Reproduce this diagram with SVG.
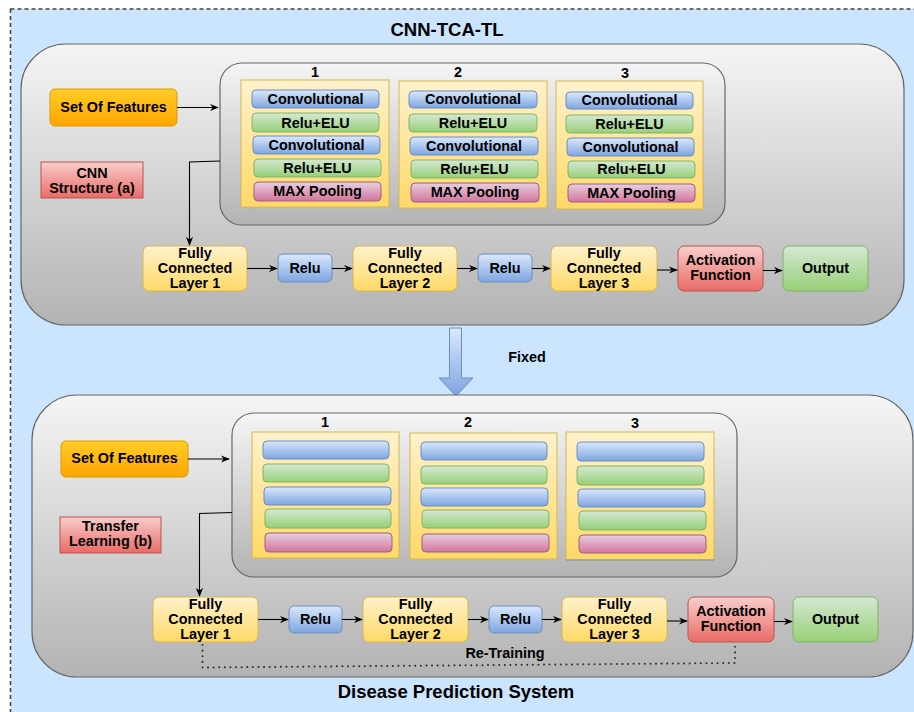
<svg xmlns="http://www.w3.org/2000/svg" width="914" height="712" viewBox="0 0 914 712">
  <defs>
    <linearGradient id="gGray" x1="0" y1="0" x2="0" y2="1">
      <stop offset="0" stop-color="#f5f5f5"/>
      <stop offset="1" stop-color="#b3b3b3"/>
    </linearGradient>
    <linearGradient id="gYellow" x1="0" y1="0" x2="0" y2="1">
      <stop offset="0" stop-color="#fff2cc"/>
      <stop offset="1" stop-color="#ffd966"/>
    </linearGradient>
    <linearGradient id="gBlue" x1="0" y1="0" x2="0" y2="1">
      <stop offset="0" stop-color="#dae8fc"/>
      <stop offset="1" stop-color="#7ea6e0"/>
    </linearGradient>
    <linearGradient id="gGreen" x1="0" y1="0" x2="0" y2="1">
      <stop offset="0" stop-color="#d5e8d4"/>
      <stop offset="1" stop-color="#97d077"/>
    </linearGradient>
    <linearGradient id="gPink" x1="0" y1="0" x2="0" y2="1">
      <stop offset="0" stop-color="#e6d0de"/>
      <stop offset="1" stop-color="#d5739d"/>
    </linearGradient>
    <linearGradient id="gOrange" x1="0" y1="0" x2="0" y2="1">
      <stop offset="0" stop-color="#ffcd28"/>
      <stop offset="1" stop-color="#ffa500"/>
    </linearGradient>
    <linearGradient id="gRed" x1="0" y1="0" x2="0" y2="1">
      <stop offset="0" stop-color="#f8cecc"/>
      <stop offset="1" stop-color="#ea6b66"/>
    </linearGradient>
    <marker id="arr" viewBox="0 0 10 10" refX="9" refY="5" markerWidth="9" markerHeight="9" markerUnits="userSpaceOnUse" orient="auto">
      <path d="M0,1 L10,5 L0,9 L3,5 z" fill="#000"/>
    </marker>
  </defs>
  <style>
    text { font-family: "Liberation Sans", Arial, sans-serif; font-weight: bold; font-size: 14.4px; fill: #000; text-anchor: middle; }
    .title { font-size: 18.5px; }
    .panel { fill: url(#gGray); stroke: #666666; stroke-width: 1.2; }
    .col { fill: url(#gYellow); stroke: #d6b656; stroke-width: 1; }
    .fc { fill: url(#gYellow); stroke: #d6b656; stroke-width: 1; }
    .blue { fill: url(#gBlue); stroke: #6c8ebf; stroke-width: 1; }
    .green { fill: url(#gGreen); stroke: #82b366; stroke-width: 1; }
    .pink { fill: url(#gPink); stroke: #996185; stroke-width: 1; }
    .orange { fill: url(#gOrange); stroke: #d79b00; stroke-width: 1; }
    .red { fill: url(#gRed); stroke: #b85450; stroke-width: 1; }
    .link { fill: none; stroke: #000; stroke-width: 1.1; marker-end: url(#arr); }
    .dotted { fill: none; stroke: #333; stroke-width: 2; stroke-dasharray: 0.1 5.5; stroke-linecap: round; }
  </style>

  <!-- background container -->
  <rect x="10.5" y="9" width="920" height="720" fill="#cce5ff" stroke="#444" stroke-width="1.6" stroke-dasharray="4 3"/>
  <text class="title" x="447" y="36">CNN-TCA-TL</text>
  <text class="title" x="456" y="698">Disease Prediction System</text>

  <!-- ===== Part (a): CNN structure ===== -->
  <g id="panel-a">
    <rect class="panel" x="21" y="44" width="883" height="281" rx="45" ry="45"/>
    <rect class="panel" x="220" y="63" width="505" height="162" rx="22" ry="22"/>
  </g>

  <g id="a-block1">
    <text x="315" y="77">1</text>
    <rect class="col" x="241" y="80" width="148" height="127"/>
    <rect class="blue" x="252" y="90" width="127" height="18" rx="4"/>
    <text x="315.5" y="104">Convolutional</text>
    <rect class="green" x="252" y="113" width="127" height="19" rx="4"/>
    <text x="315.5" y="128">Relu+ELU</text>
    <rect class="blue" x="253" y="136" width="127" height="18" rx="4"/>
    <text x="316.5" y="150">Convolutional</text>
    <rect class="green" x="254" y="159" width="127" height="18" rx="4"/>
    <text x="317.5" y="173">Relu+ELU</text>
    <rect class="pink" x="254" y="182" width="127" height="19" rx="4"/>
    <text x="317.5" y="196">MAX Pooling</text>
  </g>

  <g id="a-block2">
    <text x="458" y="77">2</text>
    <rect class="col" x="399" y="81" width="148" height="127"/>
    <rect class="blue" x="409" y="91" width="128" height="17" rx="4"/>
    <text x="473" y="104">Convolutional</text>
    <rect class="green" x="409" y="114" width="128" height="18" rx="4"/>
    <text x="473" y="128">Relu+ELU</text>
    <rect class="blue" x="410" y="137" width="128" height="18" rx="4"/>
    <text x="474" y="151">Convolutional</text>
    <rect class="green" x="411" y="160" width="127" height="18" rx="4"/>
    <text x="474.5" y="174">Relu+ELU</text>
    <rect class="pink" x="411" y="183" width="128" height="19" rx="4"/>
    <text x="475" y="197">MAX Pooling</text>
  </g>

  <g id="a-block3">
    <text x="625" y="78">3</text>
    <rect class="col" x="556" y="81" width="147" height="128"/>
    <rect class="blue" x="566" y="92" width="127" height="17" rx="4"/>
    <text x="629.5" y="105">Convolutional</text>
    <rect class="green" x="566" y="115" width="127" height="18" rx="4"/>
    <text x="629.5" y="129">Relu+ELU</text>
    <rect class="blue" x="567" y="138" width="127" height="18" rx="4"/>
    <text x="630.5" y="152">Convolutional</text>
    <rect class="green" x="568" y="161" width="127" height="17" rx="4"/>
    <text x="631.5" y="174">Relu+ELU</text>
    <rect class="pink" x="568" y="184" width="127" height="18" rx="4"/>
    <text x="631.5" y="198">MAX Pooling</text>
  </g>

  <g id="a-features">
    <rect class="orange" x="50" y="89" width="127" height="37" rx="5"/>
    <text x="113.5" y="112">Set Of Features</text>
  </g>
  <g id="a-label">
    <rect class="red" x="41" y="162" width="102" height="36"/>
    <text x="92" y="178">CNN</text>
    <text x="92" y="193">Structure (a)</text>
  </g>
  <g id="a-fc1">
    <rect class="fc" x="143" y="246" width="104" height="45" rx="6"/>
    <text x="195" y="258">Fully</text>
    <text x="195" y="273">Connected</text>
    <text x="195" y="288">Layer 1</text>
  </g>
  <g id="a-relu1">
    <rect class="blue" x="278" y="254" width="54" height="28" rx="5"/>
    <text x="305" y="273">Relu</text>
  </g>
  <g id="a-fc2">
    <rect class="fc" x="353" y="246" width="104" height="45" rx="6"/>
    <text x="405" y="258">Fully</text>
    <text x="405" y="273">Connected</text>
    <text x="405" y="288">Layer 2</text>
  </g>
  <g id="a-relu2">
    <rect class="blue" x="478" y="254" width="54" height="28" rx="5"/>
    <text x="505" y="273">Relu</text>
  </g>
  <g id="a-fc3">
    <rect class="fc" x="551" y="246" width="106" height="45" rx="6"/>
    <text x="604" y="258">Fully</text>
    <text x="604" y="273">Connected</text>
    <text x="604" y="288">Layer 3</text>
  </g>
  <g id="a-activation">
    <rect class="red" x="678" y="246" width="85" height="45" rx="6"/>
    <text x="720.5" y="265">Activation</text>
    <text x="720.5" y="280">Function</text>
  </g>
  <g id="a-output">
    <rect class="green" x="783" y="246" width="85" height="45" rx="6"/>
    <text x="825.5" y="273">Output</text>
  </g>

  <!-- transfer arrow between the two parts -->
  <g id="fixed">
    <path d="M449.5,328 L461.5,328 L461.5,378 L473,378 L456,396 L439,378 L449.5,378 Z" fill="url(#gBlue)" stroke="#6c8ebf" stroke-width="1"/>
    <text x="527" y="362">Fixed</text>
  </g>

  <!-- ===== Part (b): transfer learning ===== -->
  <g id="panel-b">
    <rect class="panel" x="32" y="395" width="881" height="282" rx="45" ry="45"/>
    <rect class="panel" x="232" y="413" width="505" height="164" rx="22" ry="22"/>
  </g>

  <g id="b-block1">
    <text x="325" y="427">1</text>
    <rect class="col" x="252" y="432" width="147" height="126"/>
    <rect class="blue" x="263" y="441" width="126" height="18" rx="4"/>
    <rect class="green" x="263" y="464" width="126" height="18" rx="4"/>
    <rect class="blue" x="264" y="487" width="127" height="18" rx="4"/>
    <rect class="green" x="265" y="509" width="126" height="19" rx="4"/>
    <rect class="pink" x="265" y="533" width="127" height="19" rx="4"/>
  </g>
  <g id="b-block2">
    <text x="468" y="427">2</text>
    <rect class="col" x="410" y="433" width="147" height="126"/>
    <rect class="blue" x="421" y="442" width="126" height="18" rx="4"/>
    <rect class="green" x="421" y="466" width="126" height="18" rx="4"/>
    <rect class="blue" x="421" y="488" width="127" height="18" rx="4"/>
    <rect class="green" x="422" y="510" width="127" height="18" rx="4"/>
    <rect class="pink" x="422" y="534" width="127" height="18" rx="4"/>
  </g>
  <g id="b-block3">
    <text x="635" y="428">3</text>
    <rect class="col" x="566" y="432" width="148" height="128"/>
    <line x1="566" y1="560" x2="714" y2="560" stroke="#6c8ebf" stroke-width="1"/>
    <rect class="blue" x="577" y="442" width="127" height="19" rx="4"/>
    <rect class="green" x="577" y="466" width="127" height="19" rx="4"/>
    <rect class="blue" x="578" y="489" width="127" height="18" rx="4"/>
    <rect class="green" x="579" y="511" width="127" height="19" rx="4"/>
    <rect class="pink" x="579" y="535" width="127" height="18" rx="4"/>
  </g>

  <g id="b-features">
    <rect class="orange" x="61" y="441" width="127" height="36" rx="5"/>
    <text x="124.5" y="463">Set Of Features</text>
  </g>
  <g id="b-label">
    <rect class="red" x="60" y="517" width="101" height="36"/>
    <text x="110.5" y="531">Transfer</text>
    <text x="110.5" y="546">Learning (b)</text>
  </g>
  <g id="b-fc1">
    <rect class="fc" x="153" y="597" width="105" height="45" rx="6"/>
    <text x="205.5" y="609">Fully</text>
    <text x="205.5" y="624">Connected</text>
    <text x="205.5" y="639">Layer 1</text>
  </g>
  <g id="b-relu1">
    <rect class="blue" x="289" y="606" width="53" height="27" rx="5"/>
    <text x="315.5" y="624">Relu</text>
  </g>
  <g id="b-fc2">
    <rect class="fc" x="363" y="597" width="105" height="45" rx="6"/>
    <text x="415.5" y="609">Fully</text>
    <text x="415.5" y="624">Connected</text>
    <text x="415.5" y="639">Layer 2</text>
  </g>
  <g id="b-relu2">
    <rect class="blue" x="489" y="606" width="53" height="27" rx="5"/>
    <text x="515.5" y="624">Relu</text>
  </g>
  <g id="b-fc3">
    <rect class="fc" x="562" y="597" width="105" height="45" rx="6"/>
    <text x="614.5" y="609">Fully</text>
    <text x="614.5" y="624">Connected</text>
    <text x="614.5" y="639">Layer 3</text>
  </g>
  <g id="b-activation">
    <rect class="red" x="688" y="597" width="86" height="45" rx="6"/>
    <text x="731" y="616">Activation</text>
    <text x="731" y="631">Function</text>
  </g>
  <g id="b-output">
    <rect class="green" x="793" y="597" width="85" height="45" rx="6"/>
    <text x="835.5" y="624">Output</text>
  </g>
  <text x="505" y="658">Re-Training</text>

  <!-- connectors -->
  <g id="connectors">
    <line class="link" x1="177" y1="107.5" x2="218" y2="107.5"/>
    <polyline class="link" points="220,161 189.5,162 189.5,245"/>
    <line class="link" x1="247" y1="268.5" x2="277" y2="268.5"/>
    <line class="link" x1="332" y1="268.5" x2="352" y2="268.5"/>
    <line class="link" x1="457" y1="268.5" x2="477" y2="268.5"/>
    <line class="link" x1="532" y1="268.5" x2="550" y2="268.5"/>
    <line class="link" x1="657" y1="270" x2="677" y2="270"/>
    <line class="link" x1="763" y1="270.5" x2="782" y2="270.5"/>

    <line class="link" x1="188" y1="459" x2="229" y2="459"/>
    <polyline class="link" points="232,512.5 199.5,513.5 199.5,596"/>
    <line class="link" x1="258" y1="619.5" x2="288" y2="619.5"/>
    <line class="link" x1="342" y1="619.5" x2="362" y2="619.5"/>
    <line class="link" x1="468" y1="619.5" x2="488" y2="619.5"/>
    <line class="link" x1="542" y1="619.5" x2="561" y2="619.5"/>
    <line class="link" x1="667" y1="621" x2="687" y2="621"/>
    <line class="link" x1="774" y1="621.5" x2="792" y2="621.5"/>

    <polyline class="dotted" points="202.5,645 202.5,667.5 735,663 735,644"/>
  </g>
</svg>
